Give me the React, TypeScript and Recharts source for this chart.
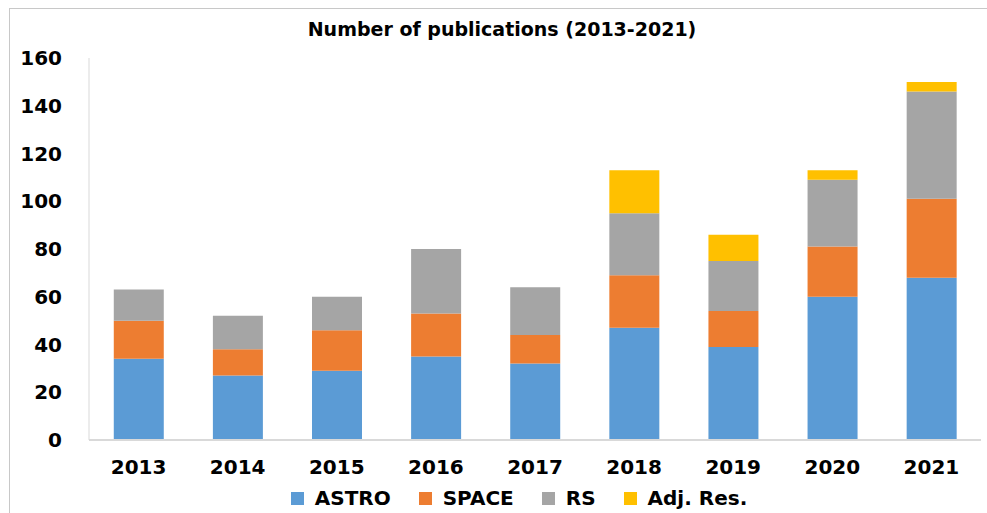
import { BarChart, Bar, XAxis, YAxis, Legend } from 'recharts';

const years = ['2013', '2014', '2015', '2016', '2017', '2018', '2019', '2020', '2021'];
const astro = [34, 27, 29, 35, 32, 47, 39, 60, 68];
const space = [16, 11, 17, 18, 12, 22, 15, 21, 33];
const rs = [13, 14, 14, 27, 20, 26, 21, 28, 45];
const adjRes = [0, 0, 0, 0, 0, 18, 11, 4, 4];
const yTicks = [0, 20, 40, 60, 80, 100, 120, 140, 160];

const series = [
  { key: 'astro', name: 'ASTRO', color: '#5B9BD5' },
  { key: 'space', name: 'SPACE', color: '#ED7D31' },
  { key: 'rs', name: 'RS', color: '#A5A5A5' },
  { key: 'adj', name: 'Adj. Res.', color: '#FFC000' },
];

const data = years.map((year, i) => ({
  year,
  astro: astro[i],
  space: space[i],
  rs: rs[i],
  adj: adjRes[i],
}));

const FONT = '"DejaVu Sans", sans-serif';

function LegendContent() {
  return (
    <div
      style={{
        display: 'flex',
        justifyContent: 'center',
        alignItems: 'center',
        height: 22,
        paddingLeft: 28,
        fontFamily: FONT,
        fontWeight: 'bold',
        fontSize: 20,
        color: '#000',
      }}
    >
      {series.map((s, i) => (
        <div
          key={s.key}
          style={{ display: 'flex', alignItems: 'center', marginRight: i === series.length - 1 ? 0 : 28 }}
        >
          <span style={{ width: 13, height: 13, background: s.color, marginRight: 11, display: 'inline-block' }} />
          <span>{s.name}</span>
        </div>
      ))}
    </div>
  );
}

export default function App() {
  return (
    <div style={{ position: 'absolute', left: 0, top: 0, width: 987, height: 513, background: '#fff' }}>
      <div
        style={{
          position: 'absolute',
          left: 9,
          top: 8,
          right: 0,
          bottom: 0,
          borderLeft: '1px solid #c8c8c8',
          borderTop: '1px solid #c8c8c8',
        }}
      />
      <div
        style={{
          position: 'absolute',
          top: 18,
          left: 0,
          width: 1004,
          textAlign: 'center',
          fontFamily: FONT,
          fontWeight: 'bold',
          fontSize: 19,
          color: '#000',
        }}
      >
        Number of publications (2013-2021)
      </div>
      <BarChart
        width={987}
        height={513}
        data={data}
        margin={{ top: 58, right: 6, left: 29, bottom: 21 }}
        barCategoryGap="25%"
        style={{ position: 'absolute', left: 0, top: 0 }}
      >
        <XAxis
          dataKey="year"
          axisLine={{ stroke: '#d9d9d9', strokeWidth: 2 }}
          tickLine={false}
          tickMargin={14}
          tick={{ fill: '#000', fontFamily: FONT, fontWeight: 'bold', fontSize: 20 }}
        />
        <YAxis
          width={60}
          domain={[0, 160]}
          ticks={yTicks}
          interval={0}
          axisLine={{ stroke: '#d9d9d9', strokeWidth: 1 }}
          tickLine={false}
          tickSize={0}
          tickMargin={27}
          tick={{ fill: '#000', fontFamily: FONT, fontWeight: 'bold', fontSize: 20 }}
        />
        <Legend verticalAlign="bottom" wrapperStyle={{ bottom: 4 }} content={<LegendContent />} />
        {series.map((s) => (
          <Bar
            key={s.key}
            dataKey={s.key}
            name={s.name}
            stackId="a"
            fill={s.color}
            isAnimationActive={false}
          />
        ))}
      </BarChart>
    </div>
  );
}
